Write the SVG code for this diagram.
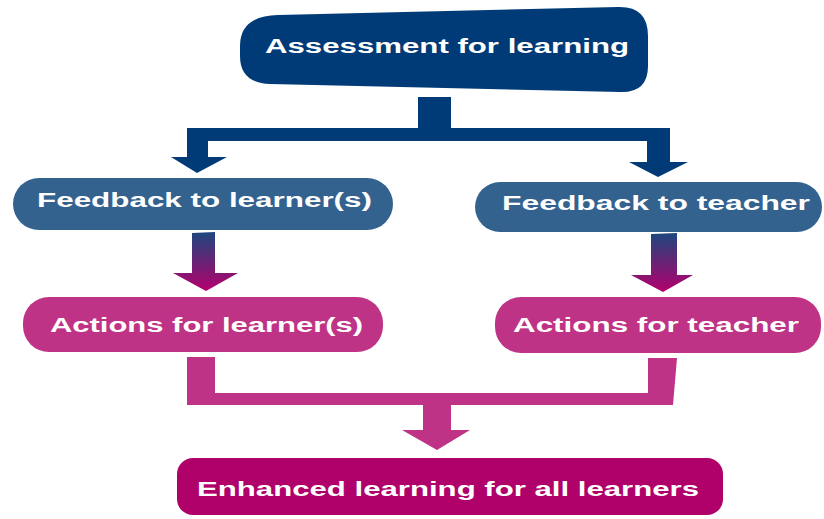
<svg xmlns="http://www.w3.org/2000/svg" width="824" height="519" viewBox="0 0 824 519">
  <style>
    .lbl { font-family: "Liberation Sans", Arial, sans-serif; font-weight: bold; font-size: 20px; fill: #ffffff; }
    .navy { fill: #003b78; }
    .fb { fill: #34628f; }
    .act { fill: #bf3386; }
    .end { fill: #b0006a; }
  </style>
  <defs>
    <linearGradient id="gradArrow" x1="0" y1="0" x2="0" y2="1">
      <stop offset="0" stop-color="#1d477f"/>
      <stop offset="1" stop-color="#b3006c"/>
    </linearGradient>
  </defs>
  <rect width="824" height="519" fill="#ffffff"/>

  <g id="connectors">
    <path class="navy" d="M418,97 L451,97 L451,128 L670,128 L670,162 L688,162 L658,177 L629,162 L647,162 L647,141 L208,141 L208,157 L227,157 L197,173 L171,157 L187,157 L187,128 L418,128 Z"/>
    <path fill="url(#gradArrow)" d="M192,233 L215,232 L215,273 L238,273 L206,291 L173,273 L192,273 Z"/>
    <path fill="url(#gradArrow)" d="M651,234 L677,233 L677,275 L693,275 L663,292 L631,275 L651,275 Z"/>
    <path class="act" d="M187,357 L215,357 L215,393 L648,393 L648,358 L677,358 L673,405 L451,405 L451,430 L470,430 L437,450 L402,430 L423,430 L423,405 L187,405 Z"/>
  </g>

  <g id="assessment">
    <path class="navy" d="M278,15 L618,7 Q648,6 648,36 L648,66 Q648,93 620,92 L270,84 Q240,83 240,56 L240,46 Q240,16 278,15 Z"/>
    <text class="lbl" x="265" y="53" textLength="364" lengthAdjust="spacingAndGlyphs">Assessment for learning</text>
  </g>

  <g id="feedback-learner">
    <rect class="fb" x="13" y="178" width="380" height="52" rx="26"/>
    <text class="lbl" x="37" y="207" textLength="335" lengthAdjust="spacingAndGlyphs">Feedback to learner(s)</text>
  </g>

  <g id="feedback-teacher">
    <rect class="fb" x="475" y="182" width="347" height="50" rx="25"/>
    <text class="lbl" x="502" y="210" textLength="308" lengthAdjust="spacingAndGlyphs">Feedback to teacher</text>
  </g>

  <g id="actions-learner">
    <rect class="act" x="23" y="297" width="360" height="55" rx="26"/>
    <text class="lbl" x="50" y="332" textLength="313" lengthAdjust="spacingAndGlyphs">Actions for learner(s)</text>
  </g>

  <g id="actions-teacher">
    <rect class="act" x="495" y="297" width="326" height="56" rx="26"/>
    <text class="lbl" x="513" y="332" textLength="286" lengthAdjust="spacingAndGlyphs">Actions for teacher</text>
  </g>

  <g id="enhanced">
    <rect class="end" x="177" y="458" width="546" height="57" rx="16"/>
    <text class="lbl" x="197" y="496" textLength="502" lengthAdjust="spacingAndGlyphs">Enhanced learning for all learners</text>
  </g>
</svg>
